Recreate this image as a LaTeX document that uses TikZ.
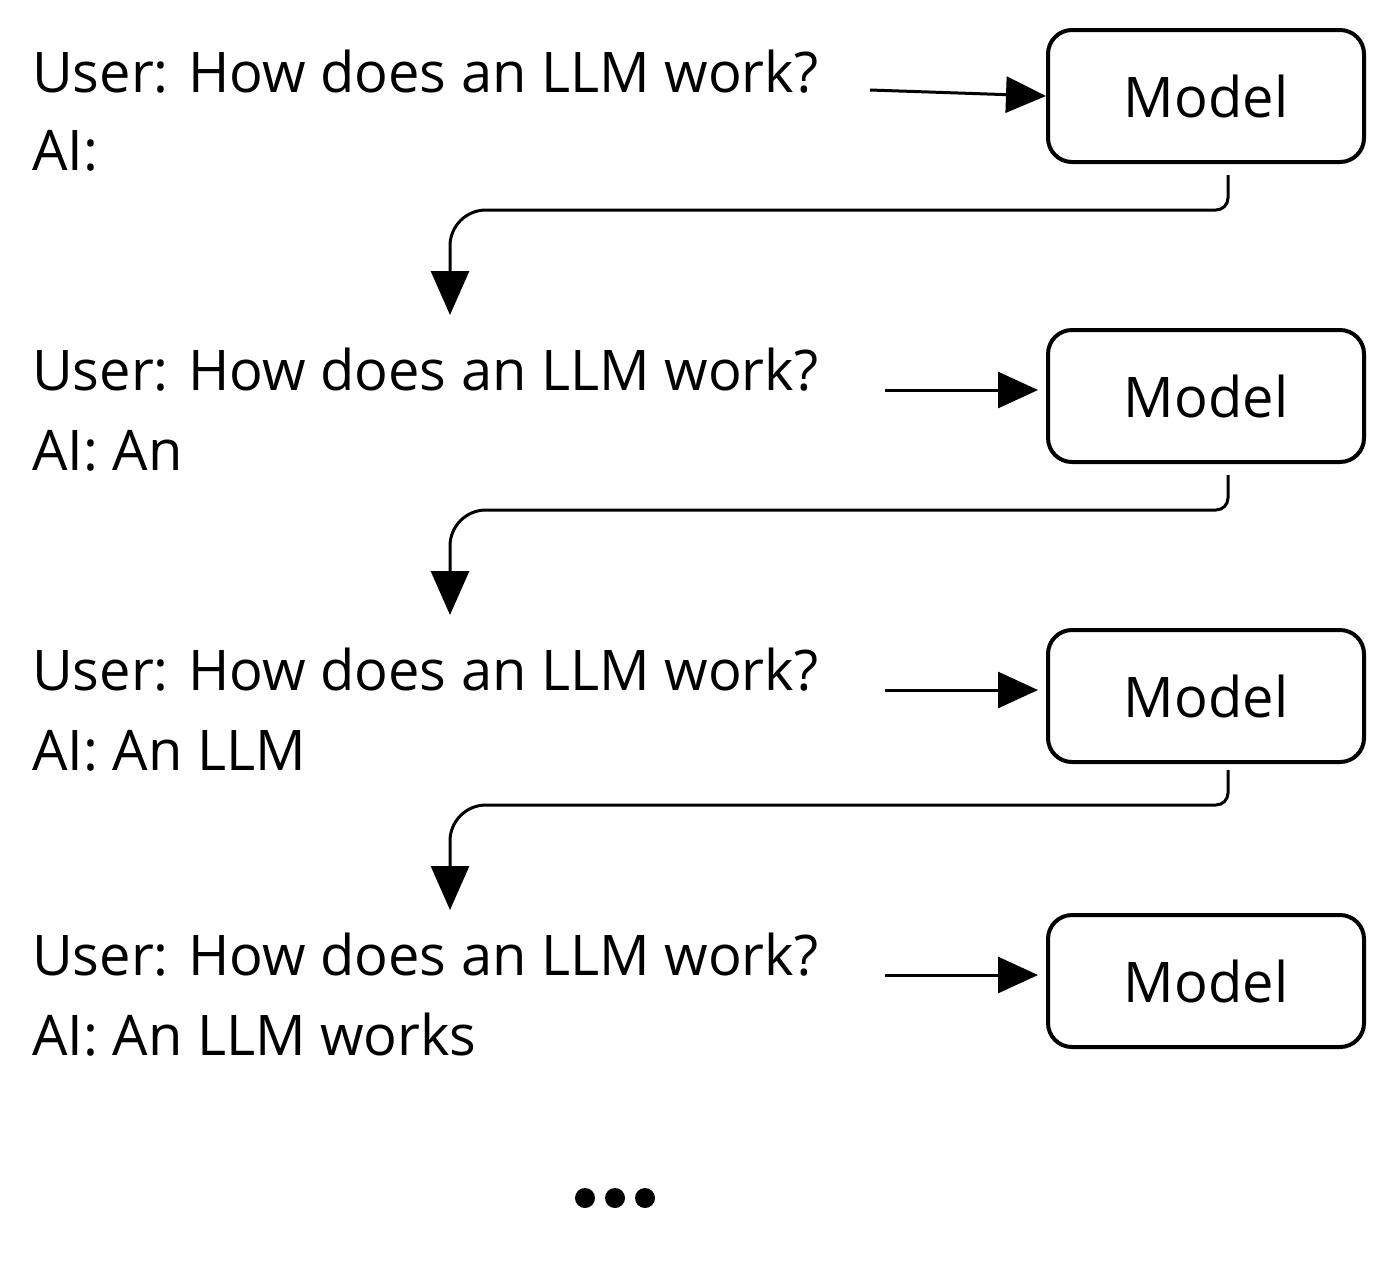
\documentclass[tikz,border=0pt]{standalone}
\usepackage{fontspec}
\setmainfont{Open Sans}
\usetikzlibrary{calc,arrows.meta}

\tikzset{
  model/.style={draw,line width=4pt,rounded corners=24pt,minimum width=316pt,minimum height=132pt,font=\fontsize{56}{60}\selectfont},
  prompt/.style={anchor=base west,inner sep=0pt,font=\fontsize{56}{60}\selectfont},
  feed/.style={line width=3pt,-{Triangle[length=40pt,width=36pt]}},
  loop/.style={line width=3pt,-{Triangle[length=44pt,width=38pt]}}
}

\begin{document}
\begin{tikzpicture}[x=1pt,y=-1pt]
\useasboundingbox (0,0) rectangle (1394,1275);
%row 1
\node[prompt] (q1) at (32,92) {User: How does an LLM work?};
\node[prompt] (a1) at (32,170) {AI:};
\node[model] (m1) at (1206,96) {Model};
%row 2
\node[prompt] (q2) at (32,390) {User: How does an LLM work?};
\node[prompt] (a2) at (32,470) {AI: An};
\node[model] (m2) at (1206,396) {Model};
%row 3
\node[prompt] (q3) at (32,690) {User: How does an LLM work?};
\node[prompt] (a3) at (32,770) {AI: An LLM};
\node[model] (m3) at (1206,696) {Model};
%row 4
\node[prompt] (q4) at (32,975) {User: How does an LLM work?};
\node[prompt] (a4) at (32,1055) {AI: An LLM works};
\node[model] (m4) at (1206,981) {Model};
%feeds
\coordinate (f1) at (870,90);
\coordinate (f2) at (885,390);
\coordinate (f3) at (885,690);
\coordinate (f4) at (885,975);
\draw[feed] (f1) -- (m1.west);
\draw[feed] (f2) -- ($(m2.west)+(-8,-6)$);
\draw[feed] (f3) -- ($(m3.west)+(-8,-6)$);
\draw[feed] (f4) -- ($(m4.west)+(-8,-6)$);
%loops
\foreach \i/\top/\bot in {1/175/315,2/475/615,3/770/910}{
  \coordinate (s\i) at (1228,\top);
  \coordinate (t\i) at (450,\bot);
  \draw[loop] (s\i) [rounded corners=12pt] -- (1228,\top+35) [rounded corners=36pt] -- (450,\top+35) [sharp corners] -- (t\i);
}
%dots
\foreach \x in {585,615,645}
  \fill (\x,1198) circle (10);
\end{tikzpicture}
\end{document}
